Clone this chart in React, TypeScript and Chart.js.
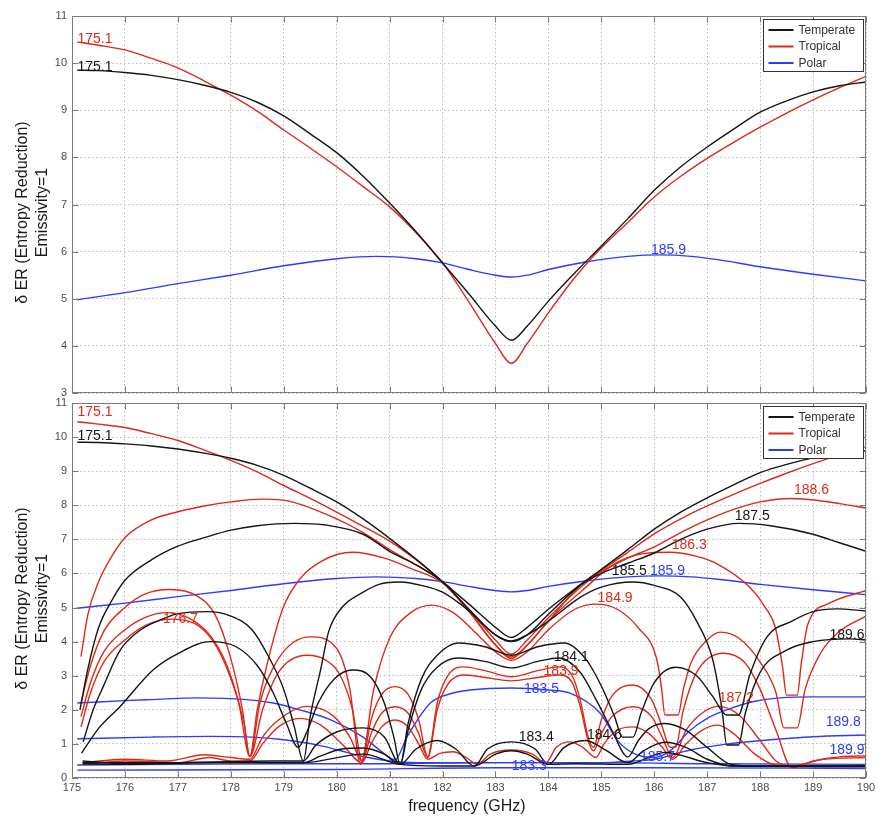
import React, { useEffect, useRef } from "react";
import { Chart, registerables } from "chart.js";

Chart.register(...registerables);

type Pt = [number, number];

// ---------- axes / text ----------
const FREQ_MIN = 175;
const FREQ_MAX = 190;
const TOP_VALUE_RANGE = [3, 11];
const BOTTOM_VALUE_RANGE = [0, 11];
const LEGEND_NAMES = ["Temperate", "Tropical", "Polar"];
const Y_TITLE_LINES = ["δ ER (Entropy Reduction)", "Emissivity=1"];
const X_TITLE = "frequency (GHz)";

// ---------- main curves (both panels) ----------
const TEMPERATE_175_1: Pt[] = [
  [175.1, 9.85], [175.5, 9.84], [176, 9.8], [176.5, 9.74], [177, 9.65], [177.5, 9.53],
  [178, 9.38], [178.5, 9.17], [179, 8.88], [179.5, 8.5], [180, 8.1], [180.5, 7.6],
  [181, 7.03], [181.5, 6.42], [182, 5.76], [182.5, 5.1], [183, 4.42], [183.3, 4.12],
  [183.6, 4.42], [184, 4.95], [184.5, 5.55], [185, 6.12], [185.5, 6.7], [186, 7.3],
  [186.5, 7.8], [187, 8.22], [187.5, 8.6], [188, 8.96], [188.5, 9.2], [189, 9.39],
  [189.5, 9.52], [190, 9.6],
];
const TROPICAL_175_1: Pt[] = [
  [175.1, 10.45], [175.5, 10.38], [176, 10.28], [176.5, 10.1], [177, 9.9], [177.5, 9.62],
  [178, 9.32], [178.5, 8.98], [179, 8.58], [179.5, 8.2], [180, 7.8], [180.5, 7.38],
  [181, 6.95], [181.5, 6.4], [182, 5.76], [182.5, 4.93], [183, 4.05], [183.3, 3.63],
  [183.6, 4.05], [184, 4.7], [184.5, 5.45], [185, 6.08], [185.5, 6.62], [186, 7.16],
  [186.5, 7.6], [187, 7.98], [187.5, 8.32], [188, 8.64], [188.5, 8.94], [189, 9.22],
  [189.5, 9.48], [190, 9.72],
];
const POLAR_185_9: Pt[] = [
  [175.1, 4.98], [176, 5.13], [177, 5.32], [178, 5.5], [179, 5.7], [180, 5.85],
  [180.75, 5.9], [181.5, 5.85], [182, 5.76], [182.5, 5.62], [183, 5.5],
  [183.3, 5.46], [183.6, 5.5], [184, 5.62], [184.7, 5.78], [185.5, 5.9], [186.1, 5.93],
  [186.7, 5.9], [187.2, 5.83], [188, 5.68], [189, 5.52], [190, 5.38],
];

// ---------- extra curves (bottom panel) ----------
const TEMPERATE_187_5: Pt[] = [
  [175.15, 2.0], [175.3, 3.2], [175.5, 4.4], [175.75, 5.2], [176, 5.8], [176.5, 6.4],
  [177, 6.8], [177.5, 7.05], [178, 7.27], [178.5, 7.4], [179.2, 7.47], [179.8, 7.42],
  [180.5, 7.15], [181, 6.65], [181.5, 6.25], [182, 5.75], [182.5, 4.95],
  [183, 4.2], [183.3, 4.0], [183.6, 4.2], [184, 4.8], [184.6, 5.65], [185, 6.0],
  [185.5, 6.3], [186, 6.6], [186.5, 7.0], [187, 7.3], [187.6, 7.47], [188.2, 7.4],
  [189, 7.15], [189.5, 6.9], [190, 6.65],
];
const TEMPERATE_185_5: Pt[] = [
  [175.21, 1.06], [175.4, 2.0], [175.59, 2.68], [175.91, 3.75], [176.3, 4.35], [176.8, 4.72],
  [177.0, 4.82], [177.55, 4.88], [178.0, 4.75], [178.4, 4.35], [178.7, 3.6], [179.0, 2.6],
  [179.2, 1.5], [179.37, 0.5], [179.5, 1.8], [179.7, 3.2], [179.85, 4.3], [180.1, 5.0],
  [180.5, 5.45], [180.8, 5.68], [181.2, 5.75], [181.6, 5.65], [182.0, 5.45], [182.5, 4.9],
  [183, 4.2], [183.3, 4.02], [183.6, 4.2], [184.0, 4.6], [184.6, 5.3], [185.0, 5.6],
  [185.6, 5.75], [186.0, 5.65], [186.5, 5.3], [186.8, 4.6], [187.1, 3.5], [187.28, 2.0],
  [187.37, 0.97], [187.59, 0.97], [187.72, 1.9], [188.0, 3.1], [188.5, 3.75], [189.0, 4.0],
  [189.7, 4.08], [190, 4.05],
];
const TEMPERATE_184_1: Pt[] = [
  [175.18, 0.73], [175.5, 1.45], [175.91, 2.1], [176.53, 3.17], [177, 3.65], [177.61, 4.0],
  [178.1, 3.85], [178.5, 3.3], [178.8, 2.5], [179.05, 1.6], [179.27, 0.9], [179.45, 1.4],
  [179.65, 2.2], [179.95, 2.9], [180.3, 3.17], [180.65, 2.95], [180.9, 2.2], [181.08, 1.2],
  [181.2, 0.4], [181.35, 1.6], [181.6, 2.9], [181.9, 3.6], [182.3, 3.96], [182.8, 3.85],
  [183.3, 3.6], [183.8, 3.85], [184.3, 3.96], [184.7, 3.5], [185.0, 2.7], [185.25, 1.8],
  [185.4, 1.2], [185.6, 1.2], [185.75, 1.9], [186.0, 2.8], [186.4, 3.25], [186.8, 3.0],
  [187.1, 2.4], [187.37, 1.85], [187.59, 1.85], [187.8, 3.0], [188.13, 4.14], [188.6, 4.6],
  [189.0, 4.88], [189.45, 4.96], [190, 4.9],
];
const TEMPERATE_LOW_A: Pt[] = [
  [175.2, 0.5], [176, 0.42], [177, 0.45], [178, 0.48], [178.8, 0.5], [179.37, 0.5],
  [179.6, 0.95], [180.0, 1.35], [180.5, 1.47], [180.9, 1.2], [181.2, 0.4], [181.35, 1.4],
  [181.6, 2.6], [181.9, 3.25], [182.3, 3.52], [182.8, 3.42], [183.3, 3.23], [183.8, 3.42],
  [184.2, 3.52], [184.6, 3.1], [184.9, 2.3], [185.2, 1.4], [185.5, 0.62], [185.7, 1.1],
  [185.9, 1.45], [186.2, 1.6], [186.6, 1.4], [187.0, 0.9], [187.45, 0.4], [188, 0.35],
  [189, 0.35], [190, 0.35],
];
const TEMPERATE_LOW_B: Pt[] = [
  [175.2, 0.42], [176, 0.4], [177, 0.43], [178, 0.45], [179.37, 0.45], [179.7, 0.65],
  [180.1, 0.85], [180.5, 0.88], [180.9, 0.7], [181.2, 0.4], [181.5, 0.85], [181.9, 1.1],
  [182.25, 0.85], [182.6, 0.35], [182.85, 0.85], [183.3, 1.06], [183.75, 0.85],
  [184.0, 0.4], [184.3, 0.9], [184.7, 1.1], [185.1, 0.8], [185.5, 0.45], [185.8, 0.8],
  [186.2, 1.05], [186.6, 0.9], [187.0, 0.55], [187.5, 0.35], [190, 0.35],
];
const TEMPERATE_LOW_C: Pt[] = [
  [175.2, 0.45], [179.37, 0.45], [180.5, 0.7], [181.2, 0.4], [182.0, 0.35], [182.6, 0.35],
  [183.0, 0.7], [183.3, 0.8], [183.6, 0.7], [184.0, 0.4], [184.5, 0.42], [185.5, 0.4],
  [186.2, 0.75], [187.0, 0.45], [187.5, 0.35], [190, 0.33],
];

const TROPICAL_188_6: Pt[] = [
  [175.17, 3.56], [175.3, 4.8], [175.5, 5.75], [175.75, 6.5], [176, 7.05], [176.5, 7.57],
  [177, 7.81], [177.5, 7.98], [178, 8.1], [178.6, 8.18], [179.1, 8.12],
  [180, 7.6], [180.5, 7.2], [181, 6.7], [181.5, 6.25], [182, 5.75], [182.5, 4.9],
  [183, 3.9], [183.3, 3.5], [183.6, 3.9], [184, 4.6], [184.6, 5.65], [185, 6.05],
  [185.5, 6.45], [186, 6.78], [186.5, 7.2], [187, 7.57], [187.5, 7.88], [188, 8.1],
  [188.6, 8.2], [189.1, 8.14], [189.5, 8.05], [190, 7.92],
];
const TROPICAL_186_3: Pt[] = [
  [175.17, 2.2], [175.35, 3.3], [175.6, 4.3], [176.0, 5.0], [176.35, 5.38], [176.85, 5.53],
  [177.35, 5.35], [177.7, 4.8], [178.0, 3.5], [178.22, 2.0], [178.36, 0.63],
  [178.5, 2.0], [178.68, 3.3], [178.99, 5.0], [179.31, 5.85], [179.7, 6.35], [180.3, 6.62],
  [180.9, 6.45], [181.4, 6.15], [182, 5.72], [182.5, 4.88], [183, 3.9], [183.3, 3.55],
  [183.6, 3.9], [184, 4.6], [184.64, 5.5], [185.27, 6.3], [185.8, 6.58], [186.3, 6.62],
  [186.8, 6.5], [187.16, 6.3], [187.8, 5.6], [188.1, 5.0], [188.29, 4.4], [188.42, 3.3],
  [188.5, 2.43], [188.7, 2.43], [188.78, 3.4], [188.9, 4.5], [189.3, 5.12], [190, 5.5],
];
const TROPICAL_184_9: Pt[] = [
  [175.17, 1.8], [175.35, 2.8], [175.6, 3.7], [176.0, 4.35], [176.4, 4.72], [176.8, 4.85],
  [177.2, 4.7], [177.6, 4.2], [177.9, 3.4], [178.15, 2.2], [178.36, 0.63], [178.55, 2.2],
  [178.9, 3.5], [179.5, 4.14], [180.0, 3.8], [180.25, 2.6], [180.45, 0.4],
  [180.7, 2.6], [181.0, 4.1], [181.4, 4.85], [181.8, 5.07], [182.2, 4.85], [182.6, 4.3],
  [183, 3.7], [183.3, 3.45], [183.6, 3.7], [184, 4.35], [184.5, 4.95], [184.9, 5.1],
  [185.3, 4.95], [185.7, 4.4], [186.05, 3.46], [186.14, 2.6], [186.2, 1.85], [186.45, 1.85],
  [186.55, 2.6], [186.7, 3.4], [187.0, 4.05], [187.25, 4.28], [187.6, 4.1], [188.0, 3.4],
  [188.3, 2.5], [188.45, 1.47], [188.7, 1.47], [188.85, 2.6], [189.14, 3.66], [189.5, 4.3],
  [190, 4.75],
];
const TROPICAL_183_9: Pt[] = [
  [175.17, 1.5], [175.35, 2.5], [175.6, 3.4], [176.0, 4.05], [176.41, 4.49], [176.9, 4.66],
  [177.4, 4.45], [177.75, 3.8], [178.05, 2.7], [178.25, 1.6], [178.36, 0.63], [178.6, 2.0],
  [178.9, 3.1], [179.44, 3.6], [179.8, 3.45], [180.07, 3.0], [180.3, 2.0], [180.48, 0.5],
  [180.65, 1.7], [180.85, 2.45], [181.1, 2.68], [181.35, 2.45], [181.55, 1.7], [181.72, 0.62],
  [181.9, 2.2], [182.1, 3.0], [182.4, 3.26], [182.8, 3.15], [183.3, 2.97], [183.8, 3.15],
  [184.2, 3.26], [184.45, 3.0], [184.6, 2.3], [184.75, 1.2], [184.85, 0.9], [185.0, 1.7],
  [185.2, 2.4], [185.6, 2.73], [185.95, 2.3], [186.15, 1.5], [186.3, 0.9], [186.4, 0.9],
  [186.55, 2.0], [186.8, 3.1], [187.3, 3.66], [187.7, 3.4], [188.0, 2.6], [188.3, 1.4],
  [188.6, 0.3], [189.0, 0.5], [189.5, 0.62], [190, 0.65],
];
const TROPICAL_187_2: Pt[] = [
  [175.2, 0.45], [176, 0.55], [176.8, 0.5], [177.5, 0.68], [178, 0.6], [178.36, 0.55],
  [178.6, 1.2], [178.9, 1.7], [179.45, 2.1], [179.95, 1.8], [180.25, 1.2],
  [180.48, 0.5], [180.65, 1.3], [180.85, 1.9], [181.1, 2.09], [181.35, 1.9], [181.55, 1.3],
  [181.72, 0.6], [181.9, 2.0], [182.1, 2.75], [182.4, 3.02], [182.8, 2.95], [183.3, 2.85],
  [183.8, 2.95], [184.2, 3.02], [184.45, 2.8], [184.6, 2.1], [184.75, 1.1], [184.85, 0.8],
  [185.0, 1.3], [185.2, 1.8], [185.6, 2.09], [185.95, 1.8], [186.15, 1.2], [186.35, 0.6],
  [186.6, 1.4], [186.9, 1.9], [187.2, 2.1], [187.6, 1.85], [188.0, 1.1], [188.3, 0.5],
  [188.6, 0.35], [189.2, 0.55], [190, 0.6],
];
const TROPICAL_LOW: Pt[] = [
  [175.2, 0.4], [176, 0.5], [177, 0.45], [177.6, 0.6], [178, 0.5], [178.36, 0.5],
  [178.6, 1.0], [178.9, 1.5], [179.31, 1.75], [179.7, 1.55], [180.1, 1.0], [180.48, 0.45],
  [180.65, 1.0], [180.85, 1.5], [181.1, 1.7], [181.35, 1.5], [181.55, 1.0], [181.72, 0.55],
  [181.95, 0.72], [182.2, 0.77], [182.45, 0.6], [182.65, 0.4], [182.9, 0.7], [183.3, 0.82],
  [183.7, 0.7], [183.95, 0.45], [184.15, 0.9], [184.4, 1.06], [184.65, 0.9], [184.9, 0.6],
  [185.05, 1.0], [185.3, 1.4], [185.6, 1.5], [185.9, 1.3], [186.15, 0.9], [186.35, 0.55],
  [186.6, 1.0], [186.9, 1.4], [187.2, 1.55], [187.5, 1.3], [187.9, 0.7], [188.3, 0.38],
  [189, 0.35], [190, 0.35],
];

const POLAR_183_5: Pt[] = [
  [175.1, 2.2], [176, 2.27], [176.5, 2.3], [177.4, 2.35], [178.3, 2.3], [178.8, 2.2],
  [179.3, 2.0], [179.9, 1.7], [180.5, 1.2], [181.0, 0.6], [181.1, 0.53], [181.33, 1.21],
  [181.77, 2.2], [182.1, 2.45], [182.52, 2.58], [183.3, 2.64], [184.0, 2.58], [184.41, 2.49],
  [184.98, 1.9], [185.3, 1.11], [185.6, 0.73], [186.0, 0.6], [186.3, 0.8], [186.68, 1.4],
  [187.0, 1.75], [187.37, 2.0], [187.9, 2.25], [188.38, 2.35], [189, 2.38], [190, 2.38],
];
const POLAR_189_8: Pt[] = [
  [175.1, 1.15], [176.5, 1.2], [177.6, 1.22], [178.4, 1.2], [179.0, 1.12], [179.63, 0.97],
  [180.07, 0.8], [180.5, 0.63], [181.0, 0.5], [181.5, 0.45], [183, 0.45], [185, 0.45],
  [185.6, 0.5], [186.0, 0.55], [186.68, 0.82], [187.4, 1.0], [188.2, 1.12], [189, 1.21],
  [190, 1.26],
];
const POLAR_189_9: Pt[] = [
  [175.1, 0.38], [177, 0.4], [179, 0.42], [181, 0.42], [183, 0.45], [185, 0.45],
  [187, 0.42], [190, 0.4],
];
const POLAR_183_3: Pt[] = [
  [175.1, 0.23], [180, 0.25], [183, 0.3], [186, 0.3], [190, 0.28],
];

// ---------- text labels ----------
const TOP_LABEL_TEXTS = ["175.1", "175.1", "185.9"];
const TOP_LABEL_FREQS = [175.435, 175.435, 186.27];
const TOP_LABEL_VALUES = [10.51, 9.92, 6.03];
const TOP_LABEL_KINDS = [1, 0, 2];

const BOTTOM_LABEL_TEXTS = [
  "175.1", "175.1", "176.7", "188.6", "187.5", "186.3", "185.5", "185.9", "184.9", "184.1",
  "183.9", "183.5", "183.4", "184.6", "183.3", "185.7", "187.2", "189.6", "189.8", "189.9",
];
const BOTTOM_LABEL_FREQS = [
  175.435, 175.435, 177.05, 188.97, 187.85, 186.66, 185.53, 186.25, 185.26, 184.43,
  184.24, 183.87, 183.77, 185.06, 183.64, 186.06, 187.55, 189.64, 189.57, 189.64,
];
const BOTTOM_LABEL_VALUES = [
  10.73, 10.03, 4.65, 8.45, 7.68, 6.83, 6.07, 6.07, 5.28, 3.55,
  3.14, 2.61, 1.2, 1.26, 0.35, 0.62, 2.35, 4.19, 1.64, 0.82,
];
const BOTTOM_LABEL_KINDS = [1, 0, 1, 1, 0, 1, 0, 2, 1, 0, 1, 2, 0, 0, 2, 2, 1, 0, 2, 2];

// ---------- styles ----------
const KIND_COLORS = ["#151515", "#dc2a18", "#2a3cff"];
const FONT = '"Liberation Sans", Arial, Helvetica, sans-serif';

type Series = { kind: number; pts: Pt[] };

const TOP_SERIES: Series[] = [
  { kind: 0, pts: TEMPERATE_175_1 },
  { kind: 1, pts: TROPICAL_175_1 },
  { kind: 2, pts: POLAR_185_9 },
];

const BOTTOM_SERIES: Series[] = [
  { kind: 0, pts: TEMPERATE_175_1 },
  { kind: 0, pts: TEMPERATE_187_5 },
  { kind: 0, pts: TEMPERATE_185_5 },
  { kind: 0, pts: TEMPERATE_184_1 },
  { kind: 0, pts: TEMPERATE_LOW_A },
  { kind: 0, pts: TEMPERATE_LOW_B },
  { kind: 0, pts: TEMPERATE_LOW_C },
  { kind: 1, pts: TROPICAL_175_1 },
  { kind: 1, pts: TROPICAL_188_6 },
  { kind: 1, pts: TROPICAL_186_3 },
  { kind: 1, pts: TROPICAL_184_9 },
  { kind: 1, pts: TROPICAL_183_9 },
  { kind: 1, pts: TROPICAL_187_2 },
  { kind: 1, pts: TROPICAL_LOW },
  { kind: 2, pts: POLAR_185_9 },
  { kind: 2, pts: POLAR_183_5 },
  { kind: 2, pts: POLAR_189_8 },
  { kind: 2, pts: POLAR_189_9 },
  { kind: 2, pts: POLAR_183_3 },
];

type LabelSet = { texts: string[]; freqs: number[]; values: number[]; kinds: number[] };

function makeDecor(labels: LabelSet, showXTitle: boolean) {
  return {
    id: "decor",
    afterDraw(chart: any) {
      const { ctx, chartArea: a, scales } = chart;
      const xs = scales.x;
      const ys = scales.y;
      ctx.save();
      const L = Math.round(a.left) + 0.5;
      const R = Math.round(a.right) - 0.5;
      const T = Math.round(a.top) + 0.5;
      const B = Math.round(a.bottom) - 0.5;
      // frame
      ctx.strokeStyle = "#7c7c7c";
      ctx.lineWidth = 1;
      ctx.strokeRect(L, T, R - L, B - T);
      // inward ticks
      ctx.beginPath();
      xs.ticks.forEach((t: any) => {
        const px = Math.round(xs.getPixelForValue(t.value)) + 0.5;
        ctx.moveTo(px, B);
        ctx.lineTo(px, B - 6);
        ctx.moveTo(px, T);
        ctx.lineTo(px, T + 6);
      });
      ys.ticks.forEach((t: any) => {
        const py = Math.round(ys.getPixelForValue(t.value)) + 0.5;
        ctx.moveTo(L, py);
        ctx.lineTo(L + 6, py);
        ctx.moveTo(R, py);
        ctx.lineTo(R - 6, py);
      });
      ctx.stroke();

      // curve labels
      ctx.font = `14px ${FONT}`;
      ctx.textAlign = "center";
      ctx.textBaseline = "middle";
      labels.texts.forEach((txt, i) => {
        ctx.fillStyle = KIND_COLORS[labels.kinds[i]];
        ctx.fillText(txt, xs.getPixelForValue(labels.freqs[i]), ys.getPixelForValue(labels.values[i]));
      });

      // legend
      const bw = 100;
      const bh = 52;
      const bx = Math.round(a.right - 3 - bw) + 0.5;
      const by = Math.round(a.top + 3) + 0.5;
      ctx.fillStyle = "#ffffff";
      ctx.fillRect(bx, by, bw, bh);
      ctx.strokeStyle = "#333333";
      ctx.lineWidth = 1;
      ctx.strokeRect(bx, by, bw, bh);
      ctx.font = `12px ${FONT}`;
      ctx.textAlign = "left";
      LEGEND_NAMES.forEach((name, i) => {
        const y = by + 10.5 + i * 16.5;
        ctx.strokeStyle = KIND_COLORS[i];
        ctx.lineWidth = 2;
        ctx.beginPath();
        ctx.moveTo(bx + 5, y);
        ctx.lineTo(bx + 30, y);
        ctx.stroke();
        ctx.fillStyle = "#333333";
        ctx.fillText(name, bx + 35, y + 0.5);
      });

      // y title
      ctx.fillStyle = "#1a1a1a";
      ctx.font = `16px ${FONT}`;
      ctx.textAlign = "center";
      ctx.textBaseline = "middle";
      const cy = (a.top + a.bottom) / 2 + 8;
      [23, 43].forEach((x, i) => {
        ctx.save();
        ctx.translate(x, cy);
        ctx.rotate(-Math.PI / 2);
        ctx.fillText(Y_TITLE_LINES[i], 0, 0);
        ctx.restore();
      });

      if (showXTitle) {
        ctx.fillText(X_TITLE, 467, a.bottom + 29);
      }
      ctx.restore();
    },
  };
}

type PanelProps = {
  top: number;
  height: number;
  padTop: number;
  padBottom: number;
  xAxisHeight: number;
  yRange: number[];
  series: Series[];
  labels: LabelSet;
  showX: boolean;
};

function Panel(p: PanelProps) {
  const ref = useRef<HTMLCanvasElement>(null);
  useEffect(() => {
    const yAxisWidth = 30;
    const chart = new Chart(ref.current as HTMLCanvasElement, {
      type: "line",
      data: {
        datasets: p.series.map((s) => ({
          data: s.pts.map(([x, y]) => ({ x, y })),
          borderColor: KIND_COLORS[s.kind],
          borderWidth: 1.4,
          pointRadius: 0,
          fill: false,
          cubicInterpolationMode: "monotone" as const,
        })),
      },
      options: {
        animation: false,
        responsive: false,
        maintainAspectRatio: false,
        events: [],
        layout: {
          padding: { left: 72 - yAxisWidth, right: 13, top: p.padTop, bottom: p.padBottom },
        },
        plugins: { legend: { display: false }, tooltip: { enabled: false } },
        scales: {
          x: {
            type: "linear",
            min: FREQ_MIN,
            max: FREQ_MAX,
            ticks: {
              stepSize: 1,
              display: p.showX,
              color: "#4a4a4a",
              font: { family: FONT, size: 11 },
              padding: 3,
              maxRotation: 0,
              autoSkip: false,
            },
            grid: { color: "#bdbdbd", drawTicks: false, lineWidth: 1 },
            border: { display: false, dash: [1.5, 2.5] },
            afterFit: (s: any) => {
              s.height = p.xAxisHeight;
              s.paddingLeft = 0;
              s.paddingRight = 0;
            },
          },
          y: {
            type: "linear",
            min: p.yRange[0],
            max: p.yRange[1],
            ticks: {
              stepSize: 1,
              color: "#4a4a4a",
              font: { family: FONT, size: 11 },
              padding: 5,
            },
            grid: { color: "#bdbdbd", drawTicks: false, lineWidth: 1 },
            border: { display: false, dash: [1.5, 2.5] },
            afterFit: (s: any) => {
              s.width = yAxisWidth;
              s.paddingTop = 0;
              s.paddingBottom = 0;
            },
          },
        },
      },
      plugins: [makeDecor(p.labels, p.showX)],
    } as any);
    return () => chart.destroy();
  }, []);
  return (
    <canvas
      ref={ref}
      width={879}
      height={p.height}
      style={{ position: "absolute", left: 0, top: p.top, width: 879, height: p.height }}
    />
  );
}

export default function App() {
  return (
    <div style={{ position: "absolute", left: 0, top: 0, width: 879, height: 822, background: "#fff" }}>
      <Panel
        top={0}
        height={400}
        padTop={16}
        padBottom={7}
        xAxisHeight={0}
        yRange={TOP_VALUE_RANGE}
        series={TOP_SERIES}
        labels={{ texts: TOP_LABEL_TEXTS, freqs: TOP_LABEL_FREQS, values: TOP_LABEL_VALUES, kinds: TOP_LABEL_KINDS }}
        showX={false}
      />
      <Panel
        top={390}
        height={432}
        padTop={13}
        padBottom={0}
        xAxisHeight={44}
        yRange={BOTTOM_VALUE_RANGE}
        series={BOTTOM_SERIES}
        labels={{
          texts: BOTTOM_LABEL_TEXTS,
          freqs: BOTTOM_LABEL_FREQS,
          values: BOTTOM_LABEL_VALUES,
          kinds: BOTTOM_LABEL_KINDS,
        }}
        showX={true}
      />
    </div>
  );
}
